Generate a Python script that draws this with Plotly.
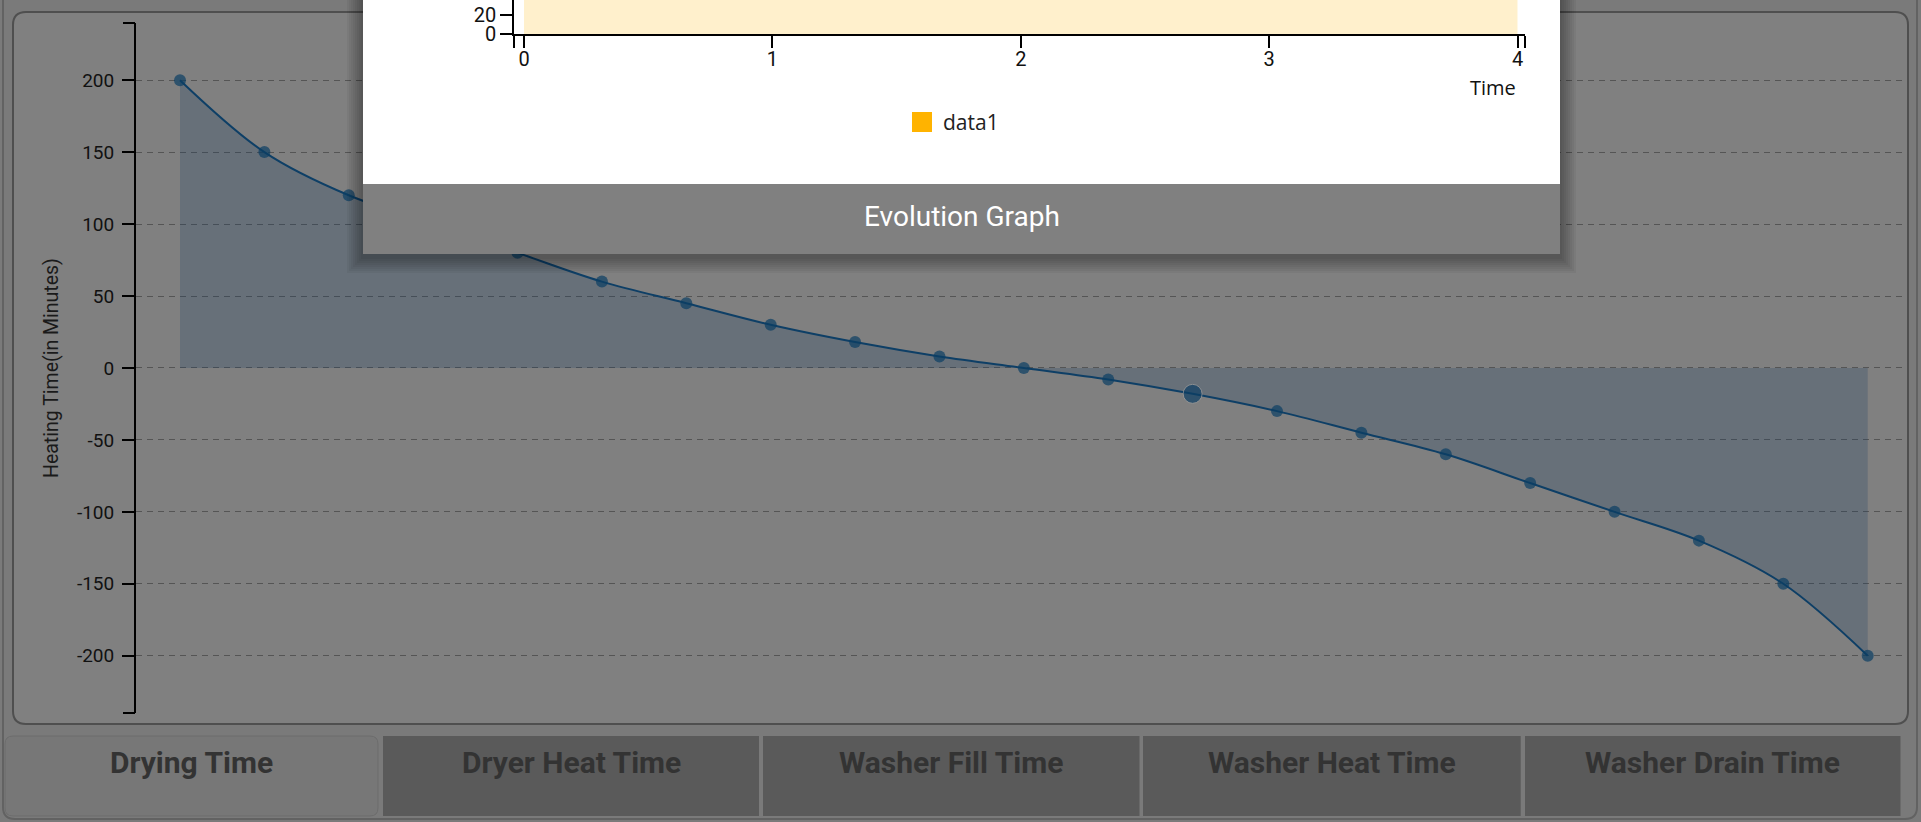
import plotly.graph_objects as go

W, H = 1921, 822          # reference geometry (pixels)
FIG_H = 834               # page is captured taller and squeezed to 822, so draw at 834

# ---------------- data ----------------
point_index = [0, 1, 2, 3, 4, 5, 6, 7, 8, 9, 10, 11, 12, 13, 14, 15, 16, 17, 18, 19, 20]
heating_minutes = [200, 150, 120, 100, 80, 60, 45, 30, 18, 8, 0, -8, -18, -30, -45, -60, -80, -100, -120, -150, -200]
highlight_index = 12
y_tick_values = [-200, -150, -100, -50, 0, 50, 100, 150, 200]
y_tick_labels = ["-200", "-150", "-100", "-50", "0", "50", "100", "150", "200"]
y_title = "Heating Time(in Minutes)"

evo_time = [0, 1, 2, 3, 4]
evo_data1 = [120, 130, 125, 140, 135]   # above the visible part of the modal chart
evo_x_ticks = [0, 1, 2, 3, 4]
evo_y_ticks = [0, 20, 40]
evo_series_name = "data1"
evo_x_title = "Time"
modal_title = "Evolution Graph"

tab_labels = ["Drying Time", "Dryer Heat Time", "Washer Fill Time", "Washer Heat Time", "Washer Drain Time"]
active_tab = 0

# ---------------- helpers ----------------
def fx(px):
    return px / W

def fy(py):
    return 1 - py / H

def rrect_path(x0, y0, x1, y1, r):
    X, Y = fx, fy
    return (f"M {X(x0+r)},{Y(y0)} L {X(x1-r)},{Y(y0)} Q {X(x1)},{Y(y0)} {X(x1)},{Y(y0+r)} "
            f"L {X(x1)},{Y(y1-r)} Q {X(x1)},{Y(y1)} {X(x1-r)},{Y(y1)} "
            f"L {X(x0+r)},{Y(y1)} Q {X(x0)},{Y(y1)} {X(x0)},{Y(y1-r)} "
            f"L {X(x0)},{Y(y0+r)} Q {X(x0)},{Y(y0)} {X(x0+r)},{Y(y0)} Z")

FONT = "Roboto, Arial, sans-serif"
FONT2 = "'Open Sans', Roboto, sans-serif"

# main chart geometry (pixels)
x_first_px, x_last_px = 180.0, 1867.7
step_px = (x_last_px - x_first_px) / (len(point_index) - 1)
main_left, main_right = 136.0, 1906.0
main_top, main_bottom = 22.6, 713.3
y_lo, y_hi = -240, 240

# modal chart geometry
evo_left, evo_right = 514.3, 1525.0
evo_x0_px, evo_x4_px = 524.0, 1517.5
evo_step = (evo_x4_px - evo_x0_px) / 4
evo_axis_y = 34.3
evo_px_per_unit = (34.3 - 15.0) / 20
evo_xlo = -(evo_x0_px - evo_left) / evo_step
evo_xhi = 4 + (evo_right - evo_x4_px) / evo_step

fig = go.Figure()

sizes = [19 if i == highlight_index else 12 for i in range(len(point_index))]
outline_w = [1 if i == highlight_index else 0 for i in range(len(point_index))]

fig.add_trace(go.Scatter(
    x=point_index, y=heating_minutes, mode="lines+markers",
    line=dict(color="#0e3f66", width=2, shape="spline", smoothing=1),
    fill="tozeroy", fillcolor="rgba(20,60,100,0.23)",
    marker=dict(size=sizes, color="#0c3e64", line=dict(color="#9c9c9c", width=outline_w)),
    showlegend=False, hoverinfo="skip",
))
# overlay axis carrying the end caps of the main y axis
fig.add_trace(go.Scatter(x=[None], y=[None], yaxis="y5", showlegend=False, hoverinfo="skip"))
# modal frame subplot (pixel units)
fig.add_trace(go.Scatter(x=[None], y=[None], xaxis="x2", yaxis="y2", showlegend=False, hoverinfo="skip"))
# modal evolution chart
fig.add_trace(go.Scatter(
    x=evo_time, y=evo_data1, xaxis="x3", yaxis="y3", mode="lines",
    line=dict(color="#ffb300", width=1), fill="tozeroy", fillcolor="rgba(255,179,0,0.2)",
    name=evo_series_name, showlegend=False, hoverinfo="skip",
))

shapes = []
# outer container
shapes.append(dict(type="path", xref="paper", yref="paper", path=rrect_path(3, -20, 1917, 819, 12),
                   fillcolor="#7a7a7a", line=dict(color="#626262", width=2), layer="below"))
# chart panel
shapes.append(dict(type="path", xref="paper", yref="paper", path=rrect_path(13, 12, 1908, 724, 13),
                   fillcolor="#808080", line=dict(color="#4f4f4f", width=2), layer="below"))
# tabs
tab_bounds = [(5, 378), (383, 759), (763, 1139.5), (1143, 1520.7), (1525, 1900.5)]
annotations = []
for i, (a, b) in enumerate(tab_bounds):
    if i == active_tab:
        shapes.append(dict(type="path", xref="paper", yref="paper", path=rrect_path(a, 736, b, 816, 8),
                           fillcolor="#777777", line=dict(color="#6c6c6c", width=1), layer="below"))
    else:
        shapes.append(dict(type="rect", xref="paper", yref="paper", x0=fx(a), x1=fx(b), y0=fy(816), y1=fy(736),
                           fillcolor="#5a5a5a", line=dict(width=0), layer="below"))
    annotations.append(dict(text=f"<b>{tab_labels[i]}</b>", x=fx((a + b) / 2), y=fy(762), xref="paper", yref="paper",
                            showarrow=False, xanchor="center", yanchor="middle",
                            font=dict(family=FONT, size=30, color="#333333")))

# modal (drawn in the x2y2 subplot layer so it sits above the main chart's traces
# but below the modal chart's own traces)
m_left, m_right, m_body_bottom, m_bottom = 363, 1560, 184, 254
for k in range(1, 9):
    shapes.append(dict(type="rect", xref="x2", yref="y2", layer="below",
                       x0=m_left - 2 * k, x1=m_right + 2 * k,
                       y0=-20, y1=m_bottom + 3 + 2 * k, fillcolor="rgba(0,0,0,0.045)", line=dict(width=0)))
shapes.append(dict(type="rect", xref="x2", yref="y2", layer="below", x0=m_left, x1=m_right, y0=-20, y1=m_body_bottom,
                   fillcolor="#ffffff", line=dict(width=0)))
shapes.append(dict(type="rect", xref="x2", yref="y2", layer="below", x0=m_left, x1=m_right, y0=m_body_bottom, y1=m_bottom,
                   fillcolor="#808080", line=dict(width=0)))
# legend swatch
shapes.append(dict(type="rect", xref="x2", yref="y2", layer="below", x0=912, x1=932, y0=112, y1=132,
                   fillcolor="#ffb300", line=dict(width=0)))

annotations += [
    dict(text=y_title, x=fx(51), y=fy(368), xref="paper", yref="paper", textangle=-90, showarrow=False,
         xanchor="center", yanchor="middle", font=dict(family=FONT, size=19.5, color="#1a1a1a")),
    dict(text=modal_title, x=fx((m_left + m_right) / 2), y=fy(217), xref="paper", yref="paper", showarrow=False,
         xanchor="center", yanchor="middle", font=dict(family=FONT, size=28, color="#ffffff")),
    dict(text=evo_x_title, x=fx(1518), y=fy(88), xref="paper", yref="paper", showarrow=False,
         xanchor="right", yanchor="middle", font=dict(family=FONT2, size=20, color="#111111")),
    dict(text=evo_series_name, x=fx(941), y=fy(122), xref="paper", yref="paper", showarrow=False,
         xanchor="left", yanchor="middle", font=dict(family=FONT2, size=21, color="#222222")),
]

fig.update_layout(
    width=W, height=FIG_H, autosize=False,
    margin=dict(l=0, r=0, t=0, b=0, pad=0),
    paper_bgcolor="#7a7a7a", plot_bgcolor="rgba(0,0,0,0)",
    hovermode=False, showlegend=False,
    shapes=shapes, annotations=annotations,
    xaxis=dict(domain=[fx(main_left), fx(main_right)],
               range=[-(x_first_px - main_left) / step_px, 20 + (main_right - x_last_px) / step_px],
               visible=False, fixedrange=True),
    yaxis=dict(domain=[fy(main_bottom), fy(main_top)], range=[y_lo, y_hi], anchor="x",
               tickmode="array", tickvals=y_tick_values, ticktext=y_tick_labels,
               ticks="outside", ticklen=12, tickwidth=1.5, tickcolor="#000000",
               showline=True, linecolor="#000000", linewidth=2,
               showgrid=True, gridcolor="#555555", griddash="6px,5px", gridwidth=1,
               zeroline=False, ticklabelstandoff=4,
               tickfont=dict(family=FONT, size=19, color="#111111"), fixedrange=True),
    yaxis5=dict(overlaying="y", anchor="x", side="left", range=[y_lo, y_hi],
                tickmode="array", tickvals=[y_lo, y_hi], ticktext=["", ""], showticklabels=False,
                ticks="outside", ticklen=12, tickwidth=2, tickcolor="#000000",
                showgrid=False, zeroline=False, showline=False, fixedrange=True),
    xaxis2=dict(domain=[fx(343), fx(1580)], range=[343, 1580], visible=False, anchor="y2", fixedrange=True),
    yaxis2=dict(domain=[fy(275), 1], range=[275, 0], visible=False, anchor="x2", fixedrange=True),
    xaxis3=dict(domain=[fx(evo_left), fx(evo_right)], range=[evo_xlo, evo_xhi], anchor="y3",
                tickmode="array", tickvals=[evo_xlo] + evo_x_ticks + [evo_xhi],
                ticktext=[""] + [str(v) for v in evo_x_ticks] + [""],
                ticks="outside", ticklen=12, tickwidth=2, tickcolor="#000000",
                showline=True, linecolor="#000000", linewidth=2, showgrid=False, zeroline=False,
                ticklabelstandoff=-6,
                tickfont=dict(family=FONT, size=20, color="#111111"), fixedrange=True),
    yaxis3=dict(domain=[fy(evo_axis_y), 1], range=[0, evo_axis_y / evo_px_per_unit], anchor="x3",
                tickmode="array", tickvals=evo_y_ticks, ticktext=[str(v) for v in evo_y_ticks],
                ticks="outside", ticklen=12, tickwidth=2, tickcolor="#000000",
                showline=True, linecolor="#000000", linewidth=2, showgrid=False, zeroline=False,
                tickfont=dict(family=FONT, size=20, color="#111111"), fixedrange=True),
)

page_fix = (
    "var de=document.documentElement, b=document.body;"
    "de.style.margin='0'; de.style.padding='0';"
    "b.style.margin='0'; b.style.padding='0'; b.style.background='#7a7a7a';"
)

fig.write_html("out.html", post_script=page_fix, config={"displayModeBar": False})
